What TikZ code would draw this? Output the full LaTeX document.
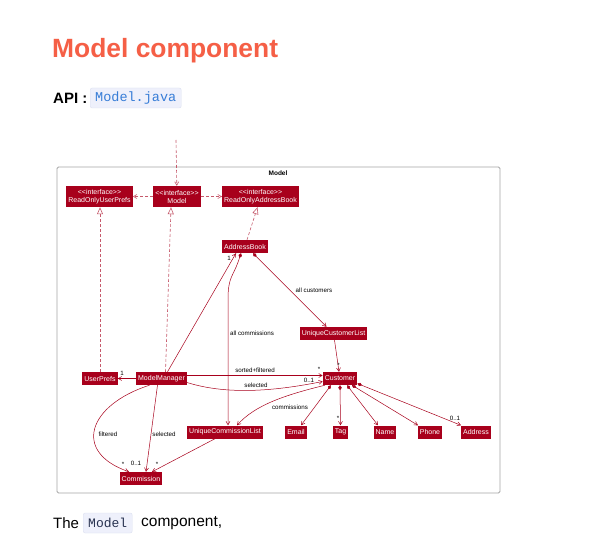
\documentclass[tikz,border=0pt]{standalone}
\usepackage{fontspec}
\setmainfont{Liberation Sans}
\newfontfamily\codefont{Liberation Mono}
\usetikzlibrary{arrows.meta}
\definecolor{umlred}{RGB}{168,0,28}
\definecolor{titlered}{RGB}{245,95,70}
\definecolor{codebg}{RGB}{238,240,251}
\definecolor{codeline}{RGB}{220,224,240}
\definecolor{codeblue}{RGB}{55,125,215}
\definecolor{codedark}{RGB}{40,50,80}
\newcommand{\stereo}{{<}{<}interface{>}{>}}
\tikzset{
	cls/.style={fill=umlred, text=white, font=\fontsize{7}{8}\selectfont, inner xsep=2pt, inner ysep=0pt, minimum height=13pt},
	iface/.style={cls, align=center, minimum height=21pt},
	assoc/.style={umlred, line width=0.5pt, -{Straight Barb[length=3.5pt,width=4pt]}},
	comp/.style={umlred, line width=0.5pt, {Diamond[length=5pt,width=3.5pt]}-{Straight Barb[length=3.5pt,width=4pt]}},
	dep/.style={umlred!65, line width=0.6pt, dash pattern=on 3pt off 2pt, -{Straight Barb[length=3.5pt,width=4pt]}},
	impl/.style={umlred!65, line width=0.6pt, dash pattern=on 3pt off 2pt, -{Triangle[open,length=7pt,width=6pt,fill=white]}},
	lbl/.style={font=\fontsize{6.2}{7}\selectfont, inner sep=0.5pt},
	codebox/.style={fill=codebg, draw=codeline, rounded corners=2pt, inner xsep=5pt, minimum height=20pt},
}
\begin{document}
\begin{tikzpicture}[x=1pt, y=-1pt]
	\fill[white] (0,0) rectangle (596,545);
	\node[anchor=west, inner sep=0pt, text=titlered, font=\bfseries\fontsize{26.4}{30}\selectfont] (title) at (52,51) {Model component};
	\node[anchor=west, inner sep=0pt, font=\bfseries\fontsize{15}{18}\selectfont] (api) at (53,98) {API :};
	\node[codebox, anchor=west, text=codeblue, font=\codefont\fontsize{13.5}{16}\selectfont] (apifile) at (90,98) {Model.java};

	\draw[gray!70, line width=0.8pt, rounded corners=1.5pt] (57,167) rectangle (500,493);
	\node[font=\bfseries\fontsize{6.5}{7.5}\selectfont] (pkg) at (278,173) {Model};

	\coordinate (outside) at (176,140);
	\node[iface] (roup) at (99.5,196.5) {\stereo\\ReadOnlyUserPrefs};
	\node[iface] (model) at (177,196.5) {\stereo\\Model};
	\node[iface] (roab) at (260.5,196.5) {\stereo\\ReadOnlyAddressBook};
	\node[cls] (ab) at (245,246.5) {AddressBook};
	\node[cls] (ucustl) at (333.5,333.5) {UniqueCustomerList};
	\node[cls] (userprefs) at (100,378.5) {UserPrefs};
	\node[cls] (mm) at (161.5,378.5) {ModelManager};
	\node[cls] (customer) at (340,378.5) {Customer};
	\node[cls] (ucl) at (225,432) {UniqueCommissionList};
	\node[cls] (email) at (296,432) {Email};
	\node[cls] (tag) at (340.5,432) {Tag};
	\node[cls] (name) at (385,432) {Name};
	\node[cls] (phone) at (430,432) {Phone};
	\node[cls] (address) at (476,432) {Address};
	\node[cls] (commission) at (141,478.5) {Commission};

	\draw[dep] (outside) -- (model);
	\draw[dep] (model) -- (roup);
	\draw[dep] (model) -- (roab);
	\draw[impl] (userprefs.north) -- (userprefs.north |- roup.south);
	\draw[impl] ([xshift=4pt]mm.north) -- ([xshift=-6pt]model.south);
	\draw[impl] ([xshift=2pt]ab.north) -- ([xshift=-3pt]roab.south);

	\draw[assoc] ([xshift=6pt]mm.north) -- ([xshift=-9pt]ab.south);
	\node[lbl] (abmult) at (229,258) {1};
	\draw[comp] ([xshift=-4pt]ab.south) .. controls +(-8,25) and +(0,-25) .. ([xshift=3pt,yshift=125pt]ucl.north) -- ([xshift=3pt]ucl.north);
	\node[lbl] (allcomm) at (252,333) {all commissions};
	\draw[comp] ([xshift=8pt]ab.south) -- ([xshift=-7pt]ucustl.north);
	\node[lbl] (allcust) at (314,290) {all customers};
	\draw[assoc] ([xshift=1pt]ucustl.south) -- ([xshift=-1pt]customer.north);
	\node[lbl] (custmult) at (338.5,365) {*};

	\draw[assoc] (mm) -- (userprefs);
	\node[lbl] (upmult) at (122,373) {1};
	\draw[assoc] ([yshift=3pt]mm.east) -- ([yshift=3pt]customer.west);
	\node[lbl] (sortfilt) at (255,370) {sorted+filtered};
	\node[lbl] (sfmult) at (319,369) {*};
	\draw[assoc] ([yshift=-4pt]mm.east) .. controls (230,396) and (280,390) .. ([yshift=-3pt]customer.west);
	\node[lbl] (selcust) at (256,385) {selected};
	\node[lbl] (selmult) at (309,380) {0..1};

	\draw[assoc] ([xshift=-12pt]mm.south) .. controls (88,405) and (72,452) .. ([xshift=-12pt]commission.north);
	\node[lbl] (filt) at (108,434) {filtered};
	\node[lbl] (filtmult) at (123,464) {*};
	\draw[assoc] ([xshift=-4pt]mm.south) -- ([xshift=5pt]commission.north);
	\node[lbl] (selcomm) at (164,434) {selected};
	\node[lbl] (selcmult) at (136,463) {0..1};

	\draw[assoc] ([xshift=-15pt]customer.south) .. controls (285,395) and (255,405) .. ([xshift=12pt]ucl.north);
	\node[lbl] (comms) at (290,407) {commissions};
	\draw[assoc] ([xshift=-10pt]ucl.south) -- ([xshift=11pt]commission.north);
	\node[lbl] (uclmult) at (157,464) {*};

	\draw[comp] ([xshift=-9pt]customer.south) -- ([xshift=5pt]email.north);
	\draw[comp] (customer.south) -- (tag.north);
	\node[lbl] (tagmult) at (338,418) {*};
	\draw[comp] ([xshift=7pt]customer.south) -- ([xshift=-7pt]name.north);
	\draw[comp] ([xshift=12pt]customer.south) -- ([xshift=-12pt]phone.north);
	\draw[comp] ([yshift=-5pt]customer.east) -- ([xshift=-15pt]address.north);
	\node[lbl] (addrmult) at (455,418) {0..1};

	\node[anchor=west, inner sep=0pt, font=\fontsize{15}{18}\selectfont] (the) at (53,523) {The};
	\node[codebox, anchor=west, text=codedark, font=\codefont\fontsize{13}{16}\selectfont] (modelcode) at (83,523) {Model};
	\node[anchor=west, inner sep=0pt, font=\fontsize{15.5}{18}\selectfont] (comp) at (141,523) {component,};
\end{tikzpicture}
\end{document}
